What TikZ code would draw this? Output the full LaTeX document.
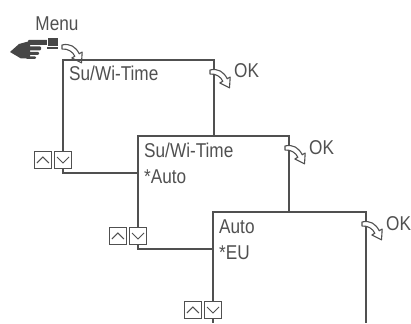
\documentclass[tikz,border=0pt]{standalone}
\usepackage{fontspec}
\newfontfamily\lcdfamily{Liberation Sans}[FakeStretch=0.86]
\definecolor{lcdgray}{RGB}{80,80,80}
\definecolor{handgray}{RGB}{70,70,70}
\usetikzlibrary{positioning}
\tikzset{
  lcdline/.style={draw=lcdgray, line width=1.4pt},
  lcdtext/.style={font=\lcdfamily\fontsize{20pt}{20pt}\selectfont, text=lcdgray, inner sep=0pt, anchor=base west},
  keybox/.style={lcdline, line width=1.1pt, fill=white, minimum size=17pt, inner sep=0pt},
  keyup/.style={keybox, path picture={\draw[lcdgray, line width=1pt] ([shift={(-6pt,-3pt)}]path picture bounding box.center) -- ++(6pt,6pt) -- ++(6pt,-6pt);}},
  keydown/.style={keybox, path picture={\draw[lcdgray, line width=1pt] ([shift={(-6pt,3pt)}]path picture bounding box.center) -- ++(6pt,-6pt) -- ++(6pt,6pt);}},
  okarrow/.pic={
    \draw[lcdline, line width=1.1pt, fill=white, line join=round] (0,0) .. controls (8,-2) and (14,2) .. (17.2,8.75) -- (20.2,7) -- (19.5,17.8) -- (9.8,13) -- (12.8,11.25) .. controls (11,7) and (6,3.5) .. (0,4) -- cycle;
  }
}

\begin{document}
\begin{tikzpicture}[x=1pt, y=-1pt]
  \useasboundingbox (0,0) rectangle (411,323);

  % menu key with the hand
  \node[lcdtext, anchor=base] (menu) at (57,31) {Menu};
  \begin{scope}[fill=handgray]
    \fill (10,52) -- (19,44) -- (30,41) -- (30,58.5) -- (21,58.5) -- cycle;
    \fill[rounded corners=1pt] (28,40) rectangle (48,45);
    \fill[rounded corners=1pt] (28,46.5) rectangle (41,50.5);
    \fill[rounded corners=1pt] (28,52) rectangle (39,55);
    \fill[rounded corners=1pt] (26,56.5) rectangle (36,59);
    \fill (47,38) rectangle (58,49);
    \draw[white, line width=0.8pt] (47,38) -- (47,46) -- (58,46);
  \end{scope}
  \pic at (62,45) {okarrow};

  % the three screens
  \foreach \i/\x/\y/\r/\e/\nx/\b in {1/63/60/214/136/138/173, 2/138/136/289/212/213/249, 3/213/212/366/323/213/323} {
    \coordinate (tl\i) at (\x,\y);
    \coordinate (tr\i) at (\r,\y);
    \coordinate (br\i) at (\r,\e);
    \coordinate (jn\i) at (\nx,\b);
    \node[keydown] (dn\i) at (\x,\b-13) {};
    \node[keyup, left=2pt of dn\i] (up\i) {};
    \draw[lcdline] (dn\i.north) -- (tl\i) -- (tr\i) -- (br\i);
    \draw[lcdline] (dn\i.south) |- (jn\i);
    \pic at ([shift={(-4,10)}]tr\i) {okarrow};
    \node[lcdtext] (ok\i) at ([shift={(20,18)}]tr\i) {OK};
  }

  \node[lcdtext] (txt1) at ([shift={(6,21)}]tl1) {Su/Wi-Time};
  \node[lcdtext] (txt2a) at ([shift={(6,21)}]tl2) {Su/Wi-Time};
  \node[lcdtext] (txt2b) at ([shift={(6,47)}]tl2) {*Auto};
  \node[lcdtext] (txt3a) at ([shift={(6,21)}]tl3) {Auto};
  \node[lcdtext] (txt3b) at ([shift={(6,47)}]tl3) {*EU};
\end{tikzpicture}
\end{document}
